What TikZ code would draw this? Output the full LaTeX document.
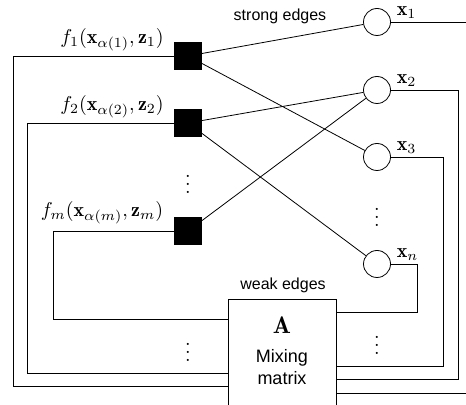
\documentclass[tikz,border=0pt]{standalone}
\usepackage{amsmath, xcolor}
\usepackage{fontspec}
\setsansfont{Liberation Sans}
\usetikzlibrary{positioning}

\begin{document}
\begin{tikzpicture}[x=0.5pt, y=-0.5pt,
    factor/.style={draw, fill=black, minimum size=13.5pt, inner sep=0pt},
    var/.style={draw, circle, minimum size=13.5pt, inner sep=0pt},
    tag/.style={font=\footnotesize\sffamily, inner sep=1pt}]
    \useasboundingbox (0,0) rectangle (466,405);
    \clip (0,0) rectangle (466,405);
    \node [factor] (f1) at (188,56) {};
    \node [factor] (f2) at (188,123) {};
    \node [factor] (fm) at (188,231) {};
    \node (lf1) at (112,40) {$f_1(\mathbf{x}_{\alpha(1)},\mathbf{z}_1)$};
    \node (lf2) at (112,107) {$f_2(\mathbf{x}_{\alpha(2)},\mathbf{z}_2)$};
    \node (lfm) at (102,213) {$f_m(\mathbf{x}_{\alpha(m)},\mathbf{z}_m)$};
    \node (df) at (188,178) {$\vdots$};
    \node [var] (x1) at (377,22) {};
    \node [var] (x2) at (377,90) {};
    \node [var] (x3) at (377,157) {};
    \node [var] (xn) at (377,264) {};
    \node [right=1.5pt of x1.north east] (lx1) {$\mathbf{x}_1$};
    \node [right=1.5pt of x2.north east] (lx2) {$\mathbf{x}_2$};
    \node [right=1.5pt of x3.north east] (lx3) {$\mathbf{x}_3$};
    \node [right=1.5pt of xn.north east] (lxn) {$\mathbf{x}_n$};
    \node (dx) at (377,211) {$\vdots$};
    \node [tag] (strong) at (280,16) {strong edges};
    \node [tag] (weak) at (283,285) {weak edges};
    \node [draw, minimum width=54pt, minimum height=60pt, anchor=north] (mat) at (282,299) {};
    \node [font=\large] (matA) at (282,325) {$\mathbf{A}$};
    \node [font=\small\sffamily, align=center] (matT) at (282,367) {Mixing\\matrix};
    \node (dl) at (188,346) {$\vdots$};
    \node (dr) at (377,339) {$\vdots$};
    \draw (f1) -- (x1);
    \draw (f1) -- (x3);
    \draw (f2) -- (x2);
    \draw (f2) -- (xn);
    \draw (fm) -- (x2);
    \draw (f1.west) -| (13,386) -- (mat.west |- 13,386);
    \draw (f2.west) -| (27,373) -- (mat.west |- 27,373);
    \draw (fm.west) -| (53,319) -- (mat.west |- 53,319);
    \draw (x1.east) -| (480,393) -- (mat.east |- 480,393);
    \draw (x2.east) -| (458,379) -- (mat.east |- 458,379);
    \draw (x3.east) -| (443,366) -- (mat.east |- 443,366);
    \draw (xn.east) -| (417,312) -- (mat.east |- 417,312);
\end{tikzpicture}
\end{document}
